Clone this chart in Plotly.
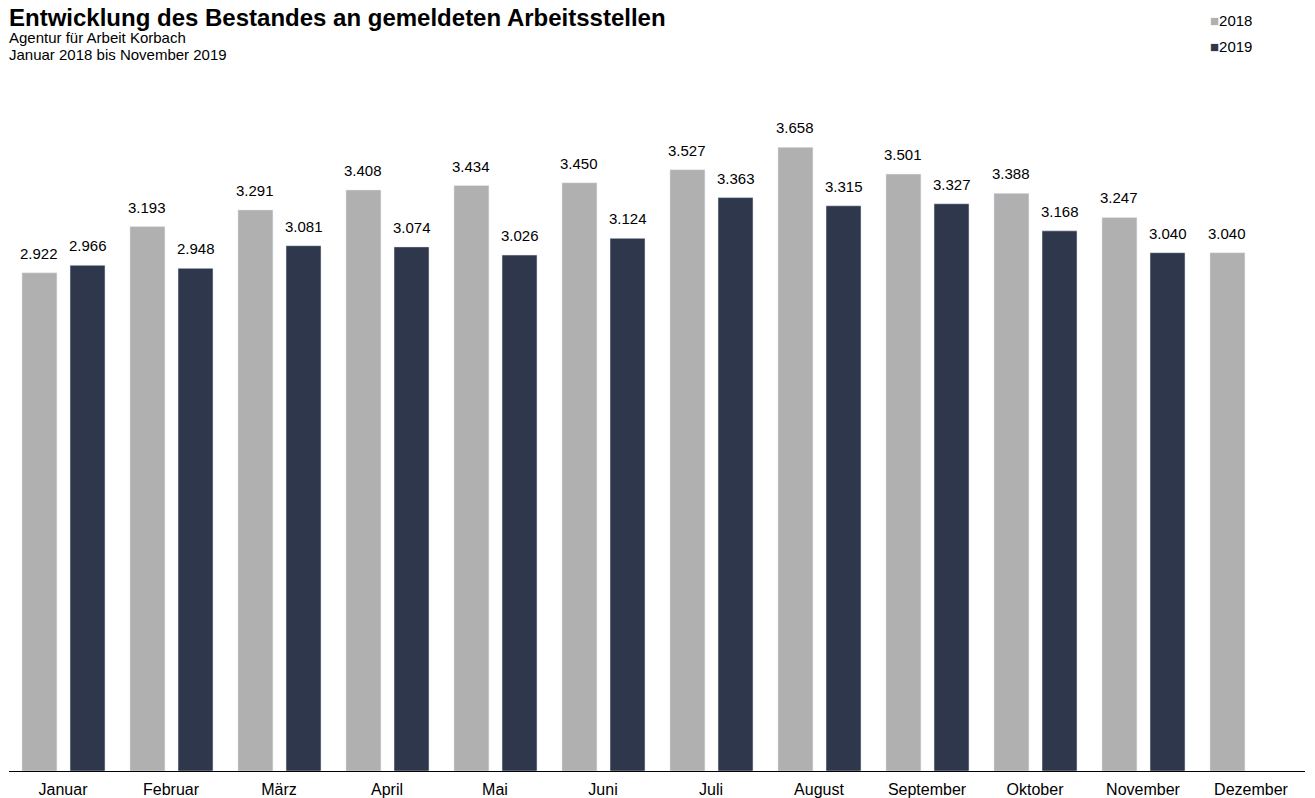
import plotly.graph_objects as go

months = ["Januar", "Februar", "März", "April", "Mai", "Juni", "Juli",
          "August", "September", "Oktober", "November", "Dezember"]
v2018 = [2922, 3193, 3291, 3408, 3434, 3450, 3527, 3658, 3501, 3388, 3247, 3040]
v2019 = [2966, 2948, 3081, 3074, 3026, 3124, 3363, 3315, 3327, 3168, 3040, None]
series_names = ["2018", "2019"]
colors = ["#b0b0b0", "#2e374b"]
offsets = [-0.38, 0.065]
BAR_W = 0.324
title = "Entwicklung des Bestandes an gemeldeten Arbeitsstellen"
subtitles = ["Agentur für Arbeit Korbach", "Januar 2018 bis November 2019"]

def fmt(v):
    return "" if v is None else f"{v:,}".replace(",", ".")

def py2paper(py):
    # window pixel row -> paper y (plot area spans rows 89..771)
    return (771 - py) / 682

FONT = "Liberation Sans, Arial, sans-serif"
fig = go.Figure()
for name, vals, col, off in zip(series_names, [v2018, v2019], colors, offsets):
    fig.add_trace(go.Bar(x=months, y=vals, name=name, marker_color=col,
                         width=BAR_W, offset=off, cliponaxis=False))
    for i, v in enumerate(vals):
        if v is None:
            continue
        fig.add_annotation(x=i + off + BAR_W / 2, y=v, text=fmt(v), showarrow=False,
                           xanchor="center", yanchor="bottom", yshift=9,
                           font=dict(size=15, family=FONT, color="#000"))

fig.update_layout(
    width=1315, height=798,
    barmode="overlay",
    plot_bgcolor="white", paper_bgcolor="white",
    font=dict(family=FONT, size=15, color="#000"),
    margin=dict(l=1, r=18, t=81, b=35, autoexpand=False),
    showlegend=False,
    xaxis=dict(showline=True, linecolor="#000", linewidth=1, ticks="", showgrid=False,
               tickfont=dict(size=16), ticklabelstandoff=4),
    yaxis=dict(range=[0, 4000], visible=False, showgrid=False),
)
fig.add_annotation(text=f"<b>{title}</b>",
                   xref="paper", yref="paper", x=0, y=py2paper(17), xanchor="left", yanchor="middle",
                   xshift=-2, showarrow=False, font=dict(size=24, family=FONT))
for k, s in enumerate(subtitles):
    fig.add_annotation(text=s, xref="paper", yref="paper", x=0, y=py2paper(37 + 17 * k),
                       xanchor="left", yanchor="middle", xshift=-2, showarrow=False,
                       font=dict(size=15, family=FONT))
# legend-like labels
for i, (name, col) in enumerate(zip(series_names, colors)):
    py = 20 + 26 * i
    fig.add_annotation(text=f"<span style='color:{col}'>■</span>{name}",
                       xref="paper", yref="paper", x=(1208 - 9) / 1296, y=py2paper(py),
                       xanchor="left", yanchor="middle", showarrow=False,
                       font=dict(size=15, family=FONT))
fig.write_html("out.html")
